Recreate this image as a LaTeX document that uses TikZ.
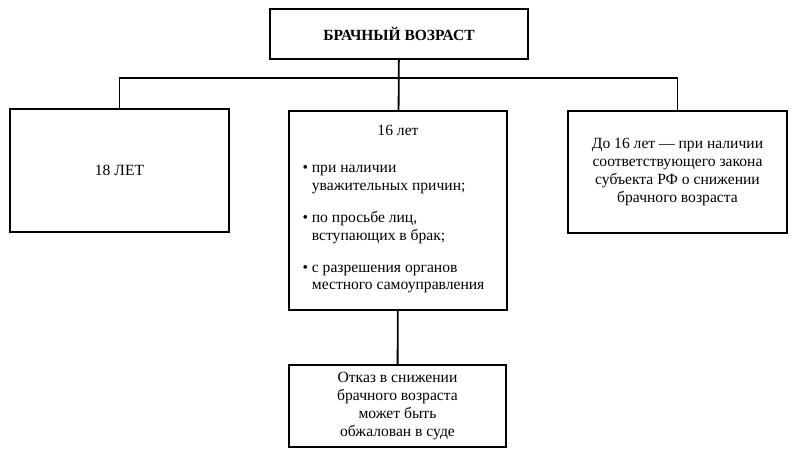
\documentclass[tikz,border=0pt]{standalone}
\usepackage{fontspec}
\setmainfont{Liberation Serif}
\usetikzlibrary{shapes}

\begin{document}
\begin{tikzpicture}[x=1pt,y=-1pt,
  box/.style={shape=rectangle,draw=black,align=center,line width=1.8pt,inner sep=0pt},
  txt/.style={font=\fontsize{15.6}{17.8}\selectfont}]
\useasboundingbox (0,0) rectangle (800,454);
\node[box,minimum width=258pt,minimum height=50pt,font=\fontsize{15.5}{19}\selectfont\bfseries] (0) at (399,34) {БРАЧНЫЙ ВОЗРАСТ};
\node[box,txt,minimum width=219pt,minimum height=123pt] (1) at (119.5,170.5) {18 ЛЕТ};
\node[box,minimum width=218pt,minimum height=199pt] (2) at (398,210.5) {};
\node[box,txt,minimum width=219pt,minimum height=122pt] (3) at (677.5,172) {До 16 лет — при наличии\\соответствующего закона\\субъекта РФ о снижении\\брачного возраста};
\node[box,txt,minimum width=217pt,minimum height=82pt] (4) at (397.5,406) {Отказ в снижении\\брачного возраста\\может быть\\обжалован в суде};

\node[txt] (5) at (398,130) {16 лет};
\node[txt,anchor=north west,align=left] (6) at (299,162) {\textbullet\ при наличии\\\phantom{\textbullet\ }уважительных причин;\\[14pt]\textbullet\ по просьбе лиц,\\\phantom{\textbullet\ }вступающих в брак;\\[14pt]\textbullet\ с разрешения органов\\\phantom{\textbullet\ }местного самоуправления};

\coordinate (7) at (0.south |- 0,78);
\path [-,draw=black,line width=1.8pt] (0) edge node {} (2);
\path [-,draw=black,line width=1.8pt] (1.north) |- (7) -| (3.north);
\path [-,draw=black,line width=1.8pt] (2) edge node {} (4);
\end{tikzpicture}
\end{document}
